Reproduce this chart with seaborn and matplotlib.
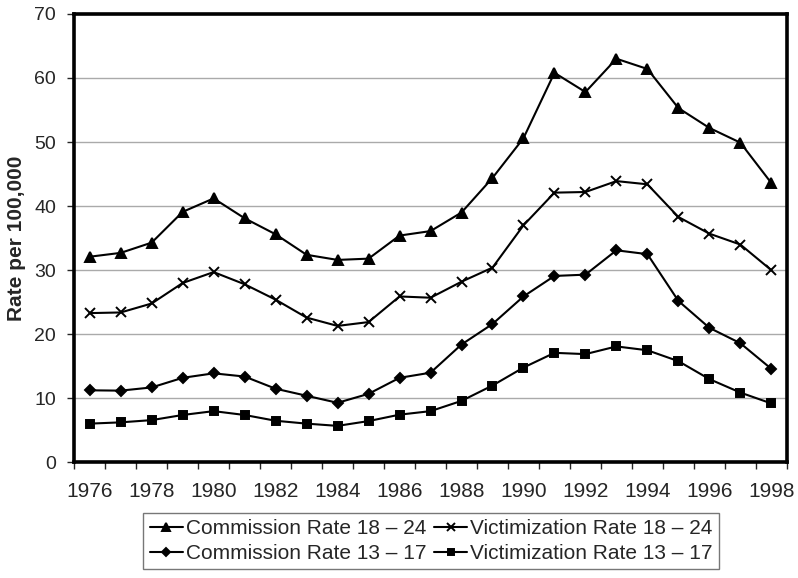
import numpy as np
import pandas as pd
import matplotlib
matplotlib.use("Agg")
import matplotlib.pyplot as plt
import seaborn as sns

years = list(range(1976, 1999))

commission_18_24 = [32.1, 32.7, 34.3, 39.1, 41.2, 38.1, 35.6, 32.4, 31.6, 31.8, 35.4, 36.1,
                    39.0, 44.4, 50.6, 60.8, 57.8, 63.0, 61.4, 55.3, 52.2, 49.9, 43.6]
victimization_18_24 = [23.3, 23.4, 24.8, 28.0, 29.7, 27.8, 25.4, 22.6, 21.3, 21.9, 25.9, 25.7,
                       28.2, 30.4, 37.0, 42.1, 42.2, 43.9, 43.4, 38.3, 35.7, 34.0, 30.0]
commission_13_17 = [11.25, 11.2, 11.7, 13.2, 13.9, 13.4, 11.5, 10.4, 9.3, 10.7, 13.2, 14.0,
                    18.4, 21.6, 25.9, 29.1, 29.3, 33.1, 32.5, 25.2, 21.0, 18.6, 14.6]
victimization_13_17 = [6.05, 6.25, 6.6, 7.4, 8.0, 7.4, 6.5, 6.05, 5.7, 6.45, 7.45, 8.0,
                       9.6, 12.0, 14.8, 17.1, 16.9, 18.1, 17.5, 15.8, 13.0, 10.9, 9.2]

series_names = ["Commission Rate 18 \u2013 24", "Victimization Rate 18 \u2013 24",
                "Commission Rate 13 \u2013 17", "Victimization Rate 13 \u2013 17"]
series_values = [commission_18_24, victimization_18_24, commission_13_17, victimization_13_17]
markers = ["^", "x", "D", "s"]
marker_sizes = [7.5, 7.5, 5.5, 5.5]

sns.set_style("white")
plt.rcParams["font.family"] = ["Liberation Sans", "DejaVu Sans"]

rows = []
for name, vals in zip(series_names, series_values):
    for i, v in enumerate(vals):
        rows.append({"idx": i, "rate": v, "series": name})
df = pd.DataFrame(rows)

fig = plt.figure(figsize=(7.98, 5.78), dpi=100)
ax = fig.add_axes([0.093, 0.2, 0.893, 0.776])

for name, m, ms in zip(series_names, markers, marker_sizes):
    sub = df[df["series"] == name]
    sns.lineplot(data=sub, x="idx", y="rate", ax=ax, color="black", linewidth=1.5,
                 marker=m, markersize=ms, markeredgecolor="black", markerfacecolor="black",
                 markeredgewidth=1.4, label=name, zorder=3)

ax.set_xlim(-0.5, len(years) - 0.5)
ax.set_ylim(0, 70)
ax.set_yticks(range(0, 71, 10))
ax.tick_params(axis="y", labelsize=14, length=5, width=1, direction="out", left=True, pad=8)
ax.set_xticks(range(0, len(years), 2))
ax.set_xticklabels([str(y) for y in years[::2]])
ax.set_xticks(np.arange(-0.5, len(years), 1), minor=True)
ax.tick_params(axis="x", which="major", labelsize=15, length=0, pad=14)
ax.tick_params(axis="x", which="minor", length=5, width=1, direction="out", bottom=True)
ax.yaxis.grid(True, color="#aaaaaa", linewidth=1)
ax.set_axisbelow(True)
for s in ax.spines.values():
    s.set_linewidth(2.6)
    s.set_color("black")

ax.set_xlabel("")
ax.set_ylabel("Rate per 100,000", fontsize=15, fontweight="bold", labelpad=6)

h, l = ax.get_legend_handles_labels()
order = [0, 2, 1, 3]
leg = ax.legend([h[i] for i in order], [l[i] for i in order], ncol=2,
                loc="upper center", bbox_to_anchor=(0.501, -0.112), fontsize=15,
                frameon=True, fancybox=False, edgecolor="#555555", handlelength=1.6,
                handletextpad=0.15, columnspacing=0.35, labelspacing=0.3, borderpad=0.3,
                borderaxespad=0, markerscale=0.7)
leg.get_frame().set_linewidth(1.0)

fig.savefig("out.png", dpi=100)
